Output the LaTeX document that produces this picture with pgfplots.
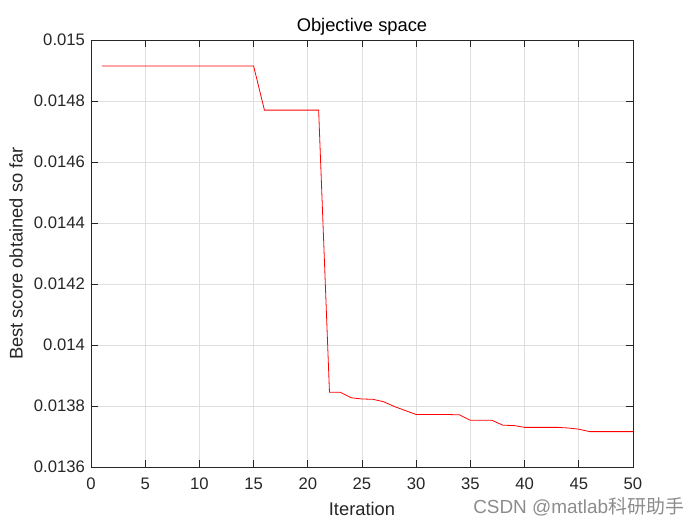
\documentclass[border=0pt]{standalone}
\usepackage{pgfplots}
\pgfplotsset{compat=1.18}
\usepackage{fontspec}
\setmainfont{Liberation Sans}
\newfontfamily\cjk{Noto Sans CJK SC}
\definecolor{axcol}{RGB}{38,38,38}
\definecolor{gridcol}{RGB}{223,223,223}
\begin{document}
\begin{tikzpicture}
\path[use as bounding box] (-68.25pt,-43.5pt) rectangle (456.75pt,350.25pt);
\begin{axis}[
  scale only axis,
  width=406.5pt, height=320.25pt,
  xmin=0, xmax=50, ymin=0.0136, ymax=0.015,
  xtick={0,5,...,50},
  ytick={0.0136,0.0138,0.014,0.0142,0.0144,0.0146,0.0148,0.015},
  yticklabels={0.0136,0.0138,0.014,0.0142,0.0144,0.0146,0.0148,0.015},
  scaled y ticks=false,
  tick align=inside,
  tick pos=both,
  major tick length=5pt,
  grid=major,
  grid style={gridcol, line width=0.5pt},
  axis line style={axcol, line width=0.6pt},
  tick style={axcol, line width=0.6pt},
  ticklabel style={font=\fontsize{12.5}{14}\selectfont, text=axcol},
  xticklabel style={yshift=-4.5pt},
  yticklabel style={xshift=-1pt},
  /pgf/number format/assume math mode=true,
  xlabel={Iteration},
  ylabel={Best score obtained so far},
  title={Objective space},
  label style={font=\fontsize{13.75}{16}\selectfont, text=axcol},
  title style={font=\fontsize{13.75}{16}\selectfont, text=black, yshift=-6pt},
  xlabel style={yshift=-3pt},
  ylabel style={yshift=1.5pt},
]
\addplot[red, line width=0.6pt] coordinates {
(1,0.014915) (2,0.014915) (3,0.014915) (4,0.014915) (5,0.014915)
(6,0.014915) (7,0.014915) (8,0.014915) (9,0.014915) (10,0.014915)
(11,0.014915) (12,0.014915) (13,0.014915) (14,0.014915) (15,0.014915)
(16,0.01477) (17,0.01477) (18,0.01477) (19,0.01477) (20,0.01477) (21,0.01477)
(22,0.013845) (23,0.013845) (24,0.013827) (25,0.013823) (26,0.013822)
(27,0.013814) (28,0.013798) (29,0.013785) (30,0.013772) (31,0.013772)
(32,0.013772) (33,0.013772) (34,0.013771) (35,0.013753) (36,0.013753)
(37,0.013753) (38,0.013737) (39,0.013736) (40,0.01373) (41,0.01373)
(42,0.01373) (43,0.01373) (44,0.013728) (45,0.013724) (46,0.013716)
(47,0.013716) (48,0.013716) (49,0.013716) (50,0.013716)
};
\end{axis}
\node[anchor=west, text=black!45, font=\fontsize{14.2}{16}\selectfont, inner sep=0pt] at (286.5pt,-30pt) {CSDN @matlab{\cjk 科研助手}};
\end{tikzpicture}
\end{document}
